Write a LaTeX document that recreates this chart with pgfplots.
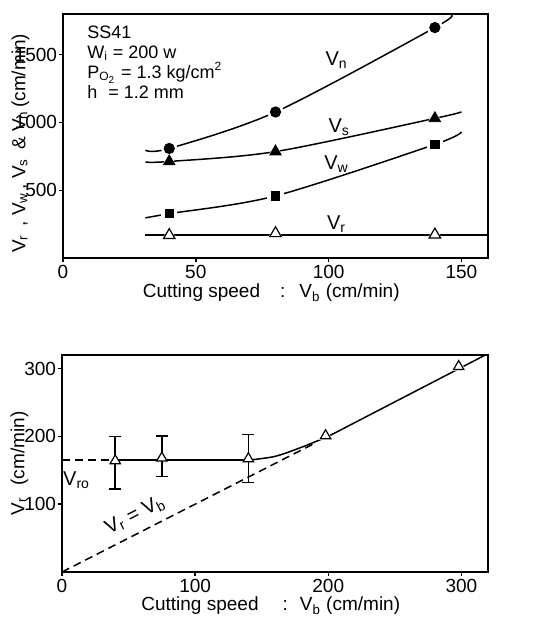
\documentclass[border=0pt]{standalone}
\usepackage{fontspec}
\setmainfont{Liberation Sans}
\usepackage{pgfplots}
\pgfplotsset{compat=1.18}

\newcommand{\sub}[1]{\textsubscript{#1}}
\pgfplotsset{
  panel/.style={
    scale only axis, anchor=south west,
    axis line style={line width=0.9pt},
    tick align=outside, xtick pos=bottom, ytick pos=left,
    major tick length=2.2pt, tick style={line width=0.7pt, black},
    ticklabel style={font=\fontsize{9.5}{10}\selectfont},
    yticklabel style={inner xsep=0.6pt},
    xticklabel style={inner ysep=1pt},
    label style={font=\fontsize{9.5}{10}\selectfont},
    /pgf/number format/assume math mode=true,
    /pgf/number format/1000 sep={},
  },
  curve/.style={black, line width=0.75pt, smooth, no markers},
  dash/.style={black, line width=0.75pt, dash pattern=on 4pt off 2.5pt},
  halo/.style={only marks, mark=#1, mark size=3.8pt, white, mark options={fill=white, draw=white}},
}

\begin{document}
\begin{tikzpicture}
\useasboundingbox (0,0) rectangle (275pt,308.5pt);

% ---- (a) ----
\begin{axis}[panel, at={(31.5pt,179.5pt)}, width=212.5pt, height=122pt,
  xmin=0, xmax=160, ymin=0, ymax=1800,
  xtick={0,50,100,150}, ytick={500,1000,1500},
  xlabel={Cutting speed\hspace{10pt}:\hspace{7pt}V\sub{b} (cm/min)},
  xlabel style={at={(axis description cs:0.49,0)}, anchor=center, yshift=-17.5pt},
  ylabel={V\sub{r}\, , V\sub{w}\,, V\sub{s}\, \& V\sub{n}\,(cm/min)},
  ylabel style={at={(axis description cs:-0.10,0.47)}, anchor=center},
]
% V_n
\addplot[curve] coordinates {(31,795) (40,808) (80,1077) (140,1700) (146,1790)};
% V_s
\addplot[curve] coordinates {(31,708) (40,712) (80,785) (140,1030) (150,1078)};
% V_w
\addplot[curve] coordinates {(31,296) (40,327) (80,458) (140,838) (150,930)};
% V_r
\addplot[black, line width=0.75pt] coordinates {(31,170) (160,170)};

\addplot[halo=*] coordinates {(40,808) (80,1077) (140,1700)};
\addplot[halo=triangle*] coordinates {(40,712) (80,785) (140,1030)};
\addplot[halo=square*] coordinates {(40,327) (80,458) (140,838)};
\addplot[halo=triangle*] coordinates {(40,168) (80,182) (140,172)};

\addplot[only marks, mark=*, mark size=2.6pt, black] coordinates {(40,808) (80,1077) (140,1700)};
\addplot[only marks, mark=triangle*, mark size=3.3pt, black] coordinates {(40,712) (80,785) (140,1030)};
\addplot[only marks, mark=square*, mark size=2.1pt, black] coordinates {(40,327) (80,458) (140,838)};
\addplot[only marks, mark=triangle*, mark size=3.3pt, black, mark options={fill=white, line width=0.6pt}] coordinates {(40,168) (80,182) (140,172)};

\node at (axis cs:103,1460) {V\sub{n}};
\node at (axis cs:104,965) {V\sub{s}};
\node at (axis cs:103,690) {V\sub{w}};
\node at (axis cs:103,252) {V\sub{r}};
\node[anchor=north west, align=left, font=\fontsize{9}{10}\selectfont, inner sep=0pt]
  at (axis cs:9,1715) {SS41\\W\sub{i} = 200 w\\P\sub{O\sub{2}} = 1.3 kg/cm\textsuperscript{2}\\h\,\, = 1.2 mm};
\node[font=\fontsize{11}{12}\selectfont] at (rel axis cs:1.047,0.496) {(a)};
\end{axis}

% ---- (b) ----
\begin{axis}[panel, at={(31pt,22.5pt)}, width=213pt, height=108.5pt,
  xmin=0, xmax=320, ymin=0, ymax=320,
  xtick={0,100,200,300}, ytick={100,200,300},
  xlabel={Cutting speed\hspace{12pt}:\hspace{6pt}V\sub{b} (cm/min)},
  xlabel style={at={(axis description cs:0.49,0)}, anchor=center, yshift=-17pt},
  ylabel={V\sub{r}\hspace{6pt}(cm/min)},
  ylabel style={at={(axis description cs:-0.10,0.50)}, anchor=center},
]
\addplot[dash] coordinates {(0,165) (40,165)};
\addplot[dash] coordinates {(0,0) (190,190)};
\addplot[black, line width=0.75pt] coordinates {(40,165) (140,165)};
\addplot[curve] coordinates {(140,165) (160,170.5) (180,184) (200,200)};
\addplot[black, line width=0.75pt] coordinates {(200,200) (318,320)};

\addplot[halo=triangle*] coordinates {(198,201) (298,303)};
\addplot[only marks, mark=triangle*, mark size=3pt, black, mark options={fill=white, line width=0.6pt},
  error bars/.cd, y dir=both, y explicit,
  error bar style={line width=0.8pt},
  error mark options={rotate=90, mark size=3pt, line width=0.8pt}]
  coordinates {(40,164) += (0,36) -= (0,42)
               (75,168) += (0,33) -= (0,27)
               (140,167) += (0,36) -= (0,35)};
\addplot[only marks, mark=triangle*, mark size=3pt, black, mark options={fill=white, line width=0.6pt}]
  coordinates {(198,201) (298,303)};

\node at (axis cs:11,135) {V\sub{ro}};
\node[rotate=27, inner sep=1pt] at (axis cs:55,84) {V\sub{r} = V\sub{b}};
\node[font=\fontsize{11}{12}\selectfont] at (rel axis cs:1.047,0.53) {(b)};
\end{axis}
\end{tikzpicture}
\end{document}
